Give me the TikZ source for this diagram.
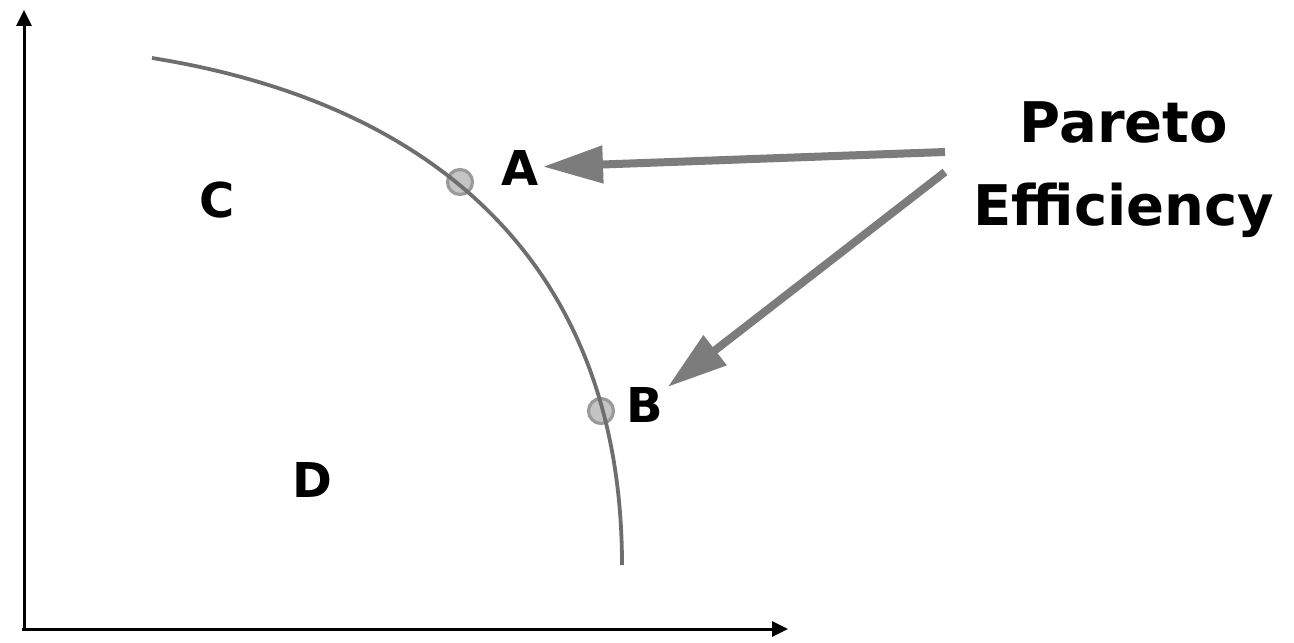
\documentclass[tikz,border=0pt]{standalone}
\usepackage{fontspec}
\newfontfamily\labfont{DejaVu Sans}
\usetikzlibrary{arrows.meta}
\definecolor{curvegray}{HTML}{6E6E6E}
\definecolor{arrgray}{HTML}{7C7C7C}
\definecolor{ringgray}{HTML}{9A9A9A}
\definecolor{ringfill}{HTML}{C4C4C4}
\tikzset{
  axisline/.style={line width=1.5pt, black, -{Triangle[length=8pt,width=7.5pt]}},
  frontier/.style={line width=1.9pt, curvegray},
  pointer/.style={line width=4pt, arrgray, -{Triangle[length=30pt,width=18pt]}},
  marker/.style={circle, draw=ringgray, fill=ringfill, line width=1.6pt, minimum size=12.5pt, inner sep=0pt},
  letter/.style={font=\labfont\bfseries\fontsize{24pt}{28pt}\selectfont, text=black, inner sep=2pt},
  title/.style={font=\labfont\bfseries\fontsize{28pt}{32pt}\selectfont, text=black, anchor=base, inner sep=0pt}
}
\begin{document}
\begin{tikzpicture}[x=0.5pt, y=-0.5pt]
\useasboundingbox (0,0) rectangle (1294,642);
% axes
\coordinate (ybot) at (24,630);
\coordinate (ytop) at (24,10);
\coordinate (xbeg) at (22,629);
\coordinate (xend) at (788,629);
\draw[axisline] (ybot) -- (ytop);
\draw[axisline] (xbeg) -- (xend);
% markers
\node[marker] (ma) at (460,182) {};
\node[marker] (mb) at (601,411) {};
% frontier curve
\coordinate (fs) at (152,58);
\coordinate (fe) at (622,565);
\draw[frontier] (fs) .. controls (457,107) and (622,284) .. (fe);
% letters
\node[letter, anchor=base] (A) at (520,185) {A};
\node[letter, anchor=base] (B) at (645,422) {B};
\node[letter, anchor=base] (C) at (217,217) {C};
\node[letter, anchor=base] (D) at (312,497) {D};
% title
\node[title] (pareto) at (1124,142) {Pareto};
\node[title] (eff) at (1124,225) {Efficiency};
% pointers
\coordinate (sA) at (945,152);
\coordinate (sB) at (945,172);
\draw[pointer] (sA) -- (A);
\draw[pointer] (sB) -- (B);
\end{tikzpicture}
\end{document}
